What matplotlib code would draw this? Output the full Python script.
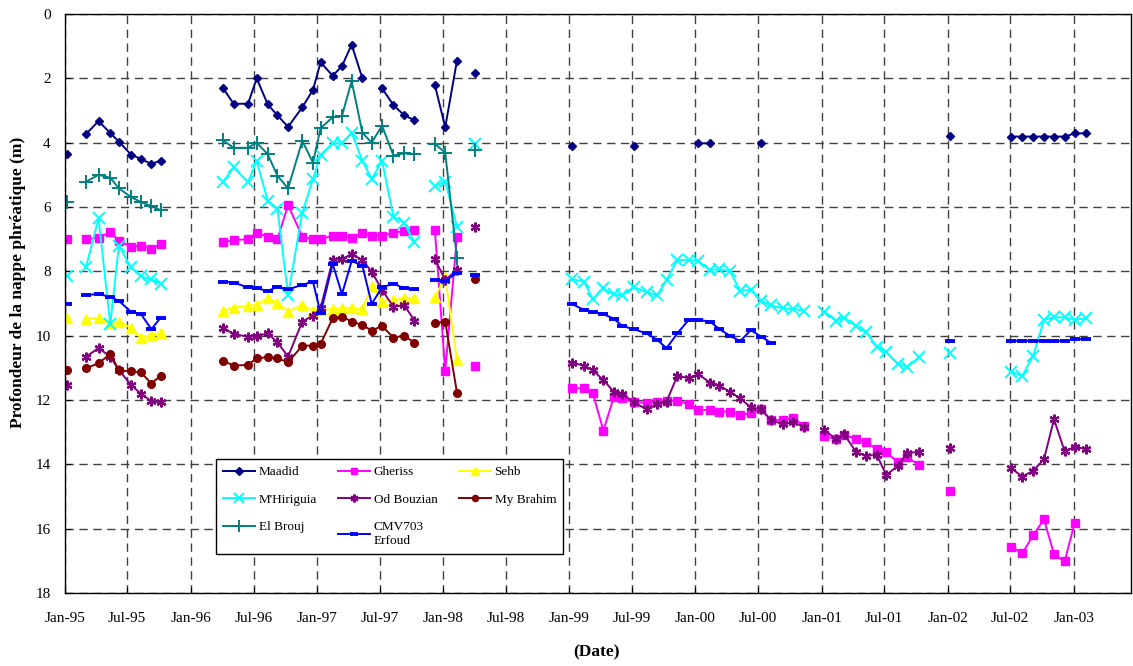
import numpy as np
import pandas as pd
import matplotlib
matplotlib.use("Agg")
import matplotlib.pyplot as plt
import matplotlib.dates as mdates

N = np.nan

# Measurement dates (gap placeholders carry NaN in every series)
dates = [
    "1995-01-07", "1995-02-05", "1995-03-04", "1995-04-09", "1995-05-13", "1995-06-07",
    "1995-07-12", "1995-08-10", "1995-09-09", "1995-10-06", "1996-01-01",
    "1996-04-04", "1996-05-04", "1996-06-15", "1996-07-10", "1996-08-11", "1996-09-08",
    "1996-10-09", "1996-11-19", "1996-12-20", "1997-01-11", "1997-02-15", "1997-03-14",
    "1997-04-11", "1997-05-12", "1997-06-08", "1997-07-08", "1997-08-10", "1997-09-10",
    "1997-10-10", "1997-11-10",
    "1997-12-08", "1998-01-07", "1998-02-10", "1998-03-10", "1998-04-03", "1998-10-01",
    "1999-01-10", "1999-02-13", "1999-03-10", "1999-04-10", "1999-05-10", "1999-06-04",
    "1999-07-07", "1999-08-13", "1999-09-13", "1999-10-10", "1999-11-10", "1999-12-13",
    "2000-01-10", "2000-02-13", "2000-03-10", "2000-04-10", "2000-05-10", "2000-06-10",
    "2000-07-10", "2000-08-07", "2000-09-10", "2000-10-10", "2000-11-10", "2000-12-10",
    "2001-01-08", "2001-02-11", "2001-03-07", "2001-04-11", "2001-05-09", "2001-06-10",
    "2001-07-07", "2001-08-10", "2001-09-06", "2001-10-10", "2001-12-01",
    "2002-01-07", "2002-04-01",
    "2002-07-04", "2002-08-05", "2002-09-06", "2002-10-07", "2002-11-05", "2002-12-06",
    "2003-01-04", "2003-02-06",
]

maadid = (
    [4.36, N, 3.73, 3.33, 3.70, 3.97, 4.37, 4.51, 4.66, 4.56, N]
    + [2.31, 2.79, 2.79, 2.00, 2.81, 3.15, 3.51, 2.90, 2.36, 1.50, 1.92, 1.62, 0.95, 2.00, N, 2.31, 2.83, 3.15, 3.30, N]
    + [2.21, 3.52, 1.45, N, 1.84, N]
    + [4.09, N, N, N, N, N, 4.09, N, N, N, N, N, 4.02, 4.02, N, N, N, N, 4.02, N, N, N, N, N]
    + [N] * 10 + [N]
    + [3.79, N]
    + [3.81, 3.81, 3.81, 3.81, 3.81, 3.81, 3.71, 3.71]
)
gheriss = (
    [7.00, N, 7.00, 6.95, 6.79, 7.05, 7.23, 7.20, 7.30, 7.15, N]
    + [7.10, 7.03, 7.00, 6.80, 6.92, 7.00, 5.94, 6.92, 7.00, 7.00, 6.89, 6.89, 6.95, 6.81, 6.89, 6.89, 6.80, 6.75, 6.70, N]
    + [6.71, 11.10, 6.92, N, 10.93, N]
    + [11.64, 11.64, 11.77, 12.95, 11.92, 11.95, 12.07, 12.08, 12.07, 12.03, 12.02, 12.12,
       12.31, 12.31, 12.36, 12.36, 12.46, 12.41, 12.29, 12.62, 12.62, 12.55, 12.80, N]
    + [13.11, 13.22, 13.09, 13.21, 13.32, 13.52, 13.62, 13.94, 13.78, 14.02, N]
    + [14.82, N]
    + [16.56, 16.77, 16.20, 15.71, 16.79, 17.02, 15.81, N]
)
sehb = (
    [9.44, N, 9.48, 9.44, 9.62, 9.56, 9.76, 10.07, 9.97, 9.93, N]
    + [9.23, 9.13, 9.08, 9.04, 8.83, 8.97, 9.25, 9.05, 9.23, 9.20, 9.17, 9.15, 9.15, 9.17, 8.46, 8.94, 8.89, 8.84, 8.82, N]
    + [8.81, 8.17, 10.76, N, N, N]
    + [N] * 24 + [N] * 11 + [N, N] + [N] * 8
)
mhiriguia = (
    [8.13, N, 7.86, 6.35, 9.64, 7.20, 7.88, 8.16, 8.25, 8.38, N]
    + [5.21, 4.77, 5.23, 4.57, 5.80, 6.07, 8.73, 6.18, 5.14, 4.38, 4.02, 4.02, 3.69, 4.56, 5.13, 4.56, 6.30, 6.49, 7.10, N]
    + [5.35, 5.21, 6.61, N, 4.04, N]
    + [8.24, 8.32, 8.86, 8.53, 8.72, 8.74, 8.48, 8.65, 8.74, 8.27, 7.65, 7.65,
       7.68, 7.96, 7.93, 7.99, 8.60, 8.58, 8.91, 9.06, 9.15, 9.17, 9.22, N]
    + [9.25, 9.53, 9.44, 9.70, 9.88, 10.34, 10.50, 10.88, 10.98, 10.67, N]
    + [10.53, N]
    + [11.12, 11.25, 10.62, 9.51, 9.43, 9.43, 9.51, 9.46]
)
od_bouzian = (
    [11.53, N, 10.65, 10.39, 10.65, 11.07, 11.53, 11.81, 12.04, 12.07, N]
    + [9.75, 9.95, 10.03, 10.01, 9.93, 10.21, 10.65, 9.56, 9.38, 9.15, 7.65, 7.62, 7.46, 7.65, 8.01, 8.58, 9.10, 9.05, 9.53, N]
    + [7.62, 8.27, 7.96, N, 6.63, N]
    + [10.84, 10.93, 11.07, 11.38, 11.74, 11.81, 12.07, 12.29, 12.13, 12.05, 11.25, 11.32,
       11.20, 11.46, 11.55, 11.74, 11.95, 12.23, 12.29, 12.62, 12.75, 12.69, 12.83, N]
    + [12.93, 13.21, 13.06, 13.62, 13.73, 13.71, 14.33, 14.05, 13.64, 13.62, N]
    + [13.48, N]
    + [14.12, 14.38, 14.20, 13.84, 12.60, 13.60, 13.45, 13.53]
)
my_brahim = (
    [11.06, N, 11.01, 10.86, 10.57, 11.08, 11.11, 11.14, 11.49, 11.24, N]
    + [10.78, 10.93, 10.91, 10.70, 10.67, 10.70, 10.83, 10.31, 10.31, 10.26, 9.46, 9.41, 9.56, 9.67, 9.84, 9.70, 10.06, 10.00, 10.22, N]
    + [9.62, 9.56, 11.77, N, 8.24, N]
    + [N] * 24 + [N] * 11 + [N, N] + [N] * 8
)
el_brouj = (
    [5.85, N, 5.21, 5.00, 5.09, 5.42, 5.69, 5.85, 5.97, 6.10, N]
    + [3.93, 4.16, 4.16, 4.00, 4.36, 5.03, 5.42, 3.94, 4.62, 3.55, 3.21, 3.17, 2.08, 3.69, 4.00, 3.47, 4.40, 4.33, 4.35, N]
    + [4.04, 4.31, 7.60, N, 4.23, N]
    + [N] * 24 + [N] * 11 + [N, N] + [N] * 8
)
cmv703 = (
    [9.02, N, 8.73, 8.71, 8.79, 8.92, 9.26, 9.33, 9.80, 9.44, N]
    + [8.32, 8.35, 8.50, 8.53, 8.61, 8.48, 8.56, 8.42, 8.32, 9.30, 7.77, 8.71, 7.68, 7.82, 9.01, 8.50, 8.38, 8.53, 8.56, N]
    + [8.27, 8.29, 8.06, N, 8.11, N]
    + [9.02, 9.20, 9.27, 9.33, 9.47, 9.70, 9.80, 9.93, 10.13, 10.39, 9.93, 9.51,
       9.51, 9.56, 9.79, 10.00, 10.17, 9.83, 10.03, 10.22, N, N, N, N]
    + [N] * 10 + [N]
    + [10.16, N]
    + [10.16, 10.16, 10.16, 10.16, 10.16, 10.16, 10.11, 10.11]
)

series_names = ["Maadid", "Gheriss", "Sehb", "M'Hiriguia", "Od Bouzian", "My Brahim",
                "El Brouj", "CMV703\nErfoud"]
series_values = [maadid, gheriss, sehb, mhiriguia, od_bouzian, my_brahim, el_brouj, cmv703]

styles = [
    dict(color="#000080", marker="D", ms=4.5, mew=1.0),
    dict(color="#FF00FF", marker="s", ms=6, mew=1.0),
    dict(color="#FFFF00", marker="^", ms=6.5, mew=1.0),
    dict(color="#00FFFF", marker="x", ms=9, mew=1.4),
    dict(color="#800080", marker=(6, 2, 0), ms=7, mew=1.6),
    dict(color="#800000", marker="o", ms=5.5, mew=1.0),
    dict(color="#008080", marker="+", ms=10, mew=1.4),
    dict(color="#0000FF", marker="_", ms=7, mew=2.8),
]

plt.rcParams["font.family"] = ["Liberation Serif", "DejaVu Serif"]

W, H = 1133, 666
fig = plt.figure(figsize=(W / 100, H / 100), dpi=100)
ax = fig.add_axes([64.7 / W, 1 - 593 / H, (1131 - 64.7) / W, (593 - 14) / H])

x = pd.to_datetime(dates)
handles = []
for name, vals, st in zip(series_names, series_values, styles):
    y = np.array(vals, dtype=float)
    assert len(y) == len(x), (name, len(y), len(x))
    h, = ax.plot(x, y, color=st["color"], lw=1.4, marker=st["marker"],
                 markersize=st["ms"], markeredgewidth=st["mew"],
                 markerfacecolor=st["color"], markeredgecolor=st["color"], label=name)
    handles.append(h)

ax.set_ylim(18, 0)
ax.set_yticks(np.arange(0, 19, 2))
ax.set_xlim(pd.Timestamp("1995-01-01"), pd.Timestamp("2003-06-16"))
ax.xaxis.set_major_locator(mdates.MonthLocator(bymonth=[1, 7]))
ax.xaxis.set_major_formatter(mdates.DateFormatter("%b-%y"))

ax.grid(True, color="#404040", lw=1.0, linestyle=(0, (6, 4)))
ax.tick_params(axis="both", direction="in", length=4, labelsize=11, color="black")
ax.tick_params(axis="x", pad=14)
ax.tick_params(axis="y", pad=10)
for s in ax.spines.values():
    s.set_color("black")
    s.set_linewidth(1.0)

fig.text(18 / W, 1 - 282 / H, "Profondeur de la nappe phréatique (m)", rotation=90,
         ha="center", va="center", fontsize=12.5, fontweight="bold")
fig.text(596 / W, 1 - 652 / H, "(Date)", ha="center", va="center",
         fontsize=12.5, fontweight="bold")

order = [0, 3, 6, 1, 4, 7, 2, 5]
leg = ax.legend([handles[i] for i in order], [series_names[i] for i in order],
                ncol=3, loc="upper left", bbox_to_anchor=(216 / W, 1 - 459 / H),
                bbox_transform=fig.transFigure, fontsize=9.5, frameon=True,
                fancybox=False, edgecolor="black", framealpha=1,
                handlelength=2.4, handletextpad=0.3, columnspacing=1.6,
                labelspacing=1.15, borderpad=0.55, borderaxespad=0, markerscale=0.8)
leg.get_frame().set_linewidth(1.0)

fig.savefig("out.png", dpi=100)
